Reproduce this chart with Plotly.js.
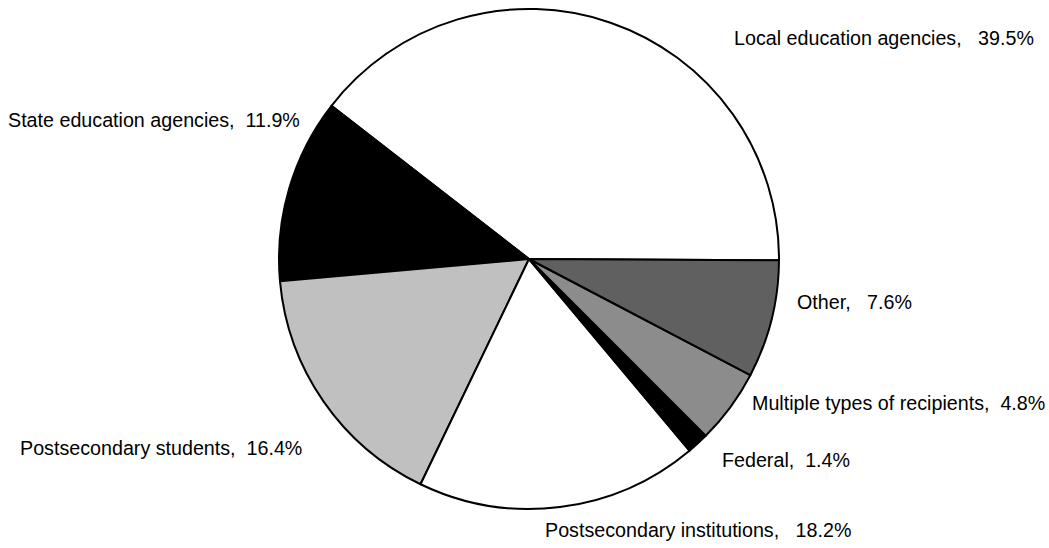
<!DOCTYPE html>
<html>
<head>
<meta charset="utf-8">
<script src="https://cdn.plot.ly/plotly-3.0.1.min.js"></script>
<style>html,body{margin:0;padding:0;background:#fff;}#chart{width:1049px;height:548px;}</style>
</head>
<body>
<div id="chart"></div>
<script>
const labels = ["Local education agencies", "State education agencies", "Postsecondary students", "Postsecondary institutions", "Federal", "Multiple types of recipients", "Other"];
const values = [39.5, 11.9, 16.4, 18.2, 1.4, 4.8, 7.6];
const sliceColors = ["#ffffff", "#000000", "#c0c0c0", "#ffffff", "#000000", "#8c8c8c", "#606060"];
const labelGaps = [3, 2, 2, 3, 2, 2, 3];

const W = 1049, H = 548;
// label anchor positions in pixels (left edge, vertical middle)
const labelPos = [[732, 38], [6, 120], [18, 448], [543, 530], [720, 460], [750, 403], [795, 302]];

const annotations = labels.map((l, i) => ({
  text: l + "," + "\u00a0".repeat(labelGaps[i]) + values[i].toFixed(1) + "%",
  x: labelPos[i][0] / W, y: 1 - labelPos[i][1] / H,
  xref: "paper", yref: "paper", xanchor: "left", yanchor: "middle",
  showarrow: false, font: {family: "Liberation Sans, Arial, sans-serif", size: 19.7, color: "#000"}
}));

const data = [{
  type: "pie",
  labels: labels,
  values: values,
  sort: false,
  direction: "counterclockwise",
  rotation: -52.2,
  textinfo: "none",
  hoverinfo: "label+percent",
  marker: {colors: sliceColors, line: {color: "#000", width: 2}},
  domain: {x: [279 / W, 779 / W], y: [1 - 509 / H, 1 - 9 / H]}
}];

const layout = {
  width: W, height: H,
  margin: {l: 0, r: 0, t: 0, b: 0},
  paper_bgcolor: "#fff",
  showlegend: false,
  annotations: annotations
};
Plotly.newPlot("chart", data, layout, {displayModeBar: false, staticPlot: true});
</script>
</body>
</html>
